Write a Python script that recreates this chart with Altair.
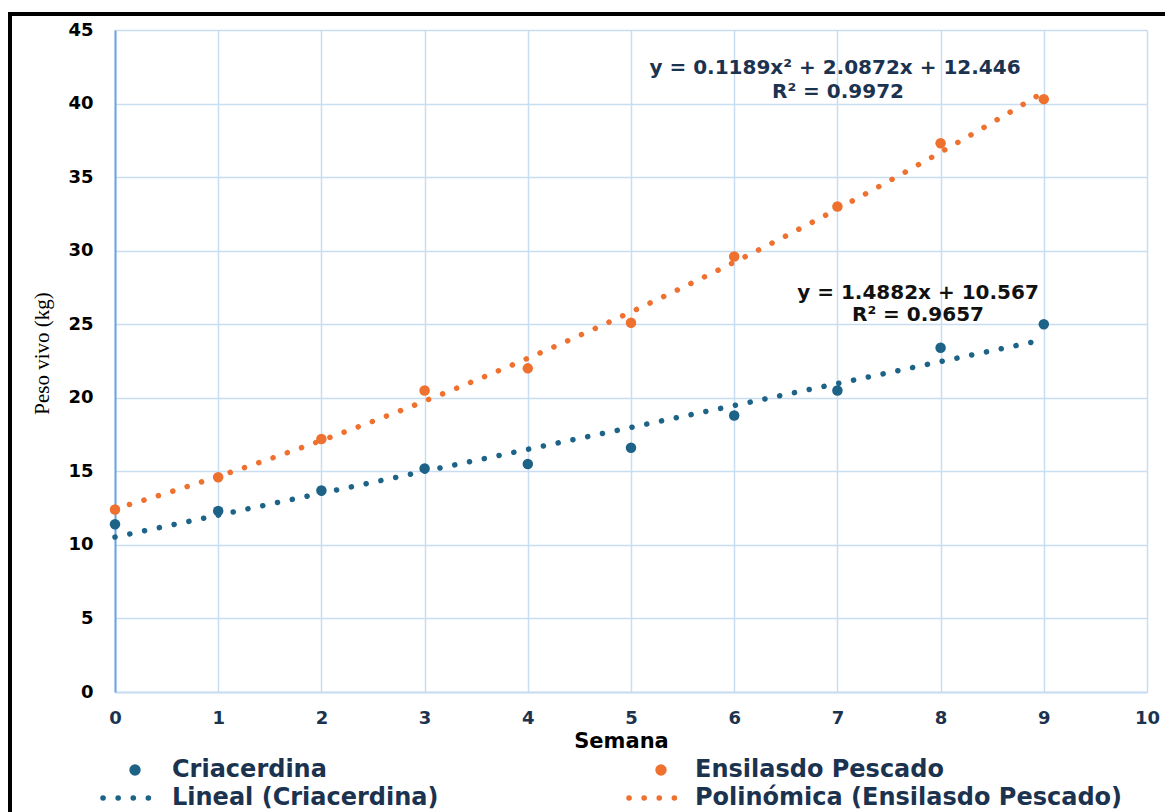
import altair as alt
import pandas as pd

semana = [0, 1, 2, 3, 4, 5, 6, 7, 8, 9]
criacerdina = [11.4, 12.3, 13.7, 15.2, 15.5, 16.6, 18.8, 20.5, 23.4, 25.0]
ensilado = [12.4, 14.6, 17.2, 20.5, 22.0, 25.1, 29.6, 33.0, 37.3, 40.3]
x_ticks = list(range(0, 11))
y_ticks = list(range(0, 46, 5))

BLUE = "#1d6388"
ORANGE = "#ee7130"
NAVY = "#1c3350"
GRID = "#c9ddf2"
SANS = "DejaVu Sans"

df = pd.DataFrame({"Semana": semana, "Criacerdina": criacerdina, "Ensilado": ensilado})

W, H = 1032, 662
xs = alt.Scale(domain=[0, 10], nice=False)
ys = alt.Scale(domain=[0, 45], nice=False)

x_axis = alt.Axis(values=x_ticks, format="d", title="Semana", grid=True, gridColor=GRID, gridWidth=1.5,
                  domainColor=GRID, domainWidth=2, ticks=False, labelPadding=17,
                  labelFont=SANS, labelFontSize=18, labelFontWeight="bold", labelColor=NAVY,
                  titleFont=SANS, titleFontSize=21, titleFontWeight="bold", titleColor="#000000",
                  titlePadding=3, titleX=506, titleAlign="center", labelFlush=False)
y_axis = alt.Axis(values=y_ticks, format="d", title="Peso vivo (kg)", grid=True, gridColor=GRID, gridWidth=1.5,
                  domainColor="#6aa5dc", domainWidth=2, ticks=False, labelPadding=22,
                  labelFont=SANS, labelFontSize=18, labelFontWeight="bold", labelColor="#000000",
                  titleFont="Liberation Serif", titleFontSize=21, titleFontWeight="normal",
                  titleColor="#000000", titleX=-73, titleY=H / 2 - 8, titleAngle=-90,
                  titleBaseline="middle", titleAlign="center", labelFlush=False)

base = alt.Chart(df)

pts_c = base.mark_circle(size=110, color=BLUE, opacity=1).encode(
    x=alt.X("Semana:Q", scale=xs, axis=x_axis),
    y=alt.Y("Criacerdina:Q", scale=ys, axis=y_axis))
pts_e = base.mark_circle(size=110, color=ORANGE, opacity=1).encode(
    x=alt.X("Semana:Q", scale=xs), y=alt.Y("Ensilado:Q", scale=ys))

dash = dict(strokeDash=[0.1, 15], strokeWidth=5.5, strokeCap="round")
lin = base.transform_regression("Semana", "Criacerdina", method="linear", extent=[0, 9]).mark_line(
    color=BLUE, **dash).encode(x=alt.X("Semana:Q", scale=xs), y=alt.Y("Criacerdina:Q", scale=ys))
poly = base.transform_regression("Semana", "Ensilado", method="poly", order=2, extent=[0, 9]).mark_line(
    color=ORANGE, **dash).encode(x=alt.X("Semana:Q", scale=xs), y=alt.Y("Ensilado:Q", scale=ys))

# equation annotations
eq_texts = ["y = 0.1189x² + 2.0872x + 12.446", "R² = 0.9972", "y = 1.4882x + 10.567", "R² = 0.9657"]
eq_x = [720, 723, 803, 803]
eq_y = [38, 62, 263, 285]
eq_col = [NAVY, NAVY, "#111111", "#111111"]
ann = []
for t, xx, yy, cc in zip(eq_texts, eq_x, eq_y, eq_col):
    ann.append(alt.Chart(pd.DataFrame({"t": [t]})).mark_text(
        font=SANS, fontSize=20, fontWeight="bold", color=cc, align="center", baseline="middle").encode(
        text="t:N", x=alt.value(xx), y=alt.value(yy)))

# legend
r1, r2 = 740, 768
leg_labels = ["Criacerdina", "Lineal (Criacerdina)", "Ensilasdo Pescado", "Polinómica (Ensilasdo Pescado)"]
leg_tx = [57, 57, 580, 580]
leg_ty = [r1, r2, r1, r2]
leg = []
for t, xx, yy in zip(leg_labels, leg_tx, leg_ty):
    leg.append(alt.Chart(pd.DataFrame({"t": [t]})).mark_text(
        font=SANS, fontSize=24, fontWeight="bold", color=NAVY, align="left", baseline="middle").encode(
        text="t:N", x=alt.value(xx), y=alt.value(yy)))
leg.append(alt.Chart(pd.DataFrame({"a": [0]})).mark_point(
    shape="circle", size=130, filled=True, color=BLUE, opacity=1).encode(
    x=alt.value(20), y=alt.value(r1)))
leg.append(alt.Chart(pd.DataFrame({"a": [0]})).mark_point(
    shape="circle", size=130, filled=True, color=ORANGE, opacity=1).encode(
    x=alt.value(546), y=alt.value(r1)))
leg.append(alt.Chart(pd.DataFrame({"a": [0]})).mark_rule(color=BLUE, **dash).encode(
    x=alt.value(-12), x2=alt.value(40), y=alt.value(r2)))
leg.append(alt.Chart(pd.DataFrame({"a": [0]})).mark_rule(color=ORANGE, **dash).encode(
    x=alt.value(514), x2=alt.value(566), y=alt.value(r2)))

# outer frame (black lines on top and left)
frame_top = alt.Chart(pd.DataFrame({"a": [0]})).mark_rule(color="#000000", strokeWidth=4).encode(
    x=alt.value(-107), x2=alt.value(1060), y=alt.value(-16))
frame_left = alt.Chart(pd.DataFrame({"a": [0]})).mark_rule(color="#000000", strokeWidth=4).encode(
    x=alt.value(-105), y=alt.value(-18), y2=alt.value(800))

chart = alt.layer(pts_c, pts_e, lin, poly, *ann, *leg, frame_top, frame_left).properties(
    width=W, height=H,
    autosize=alt.AutoSizeParams(type="none"),
    padding={"left": 115, "top": 30, "right": 18, "bottom": 120},
    background="#ffffff",
).configure_view(stroke=None)

chart.save("out.html", embed_options={"renderer": "svg", "actions": False})
